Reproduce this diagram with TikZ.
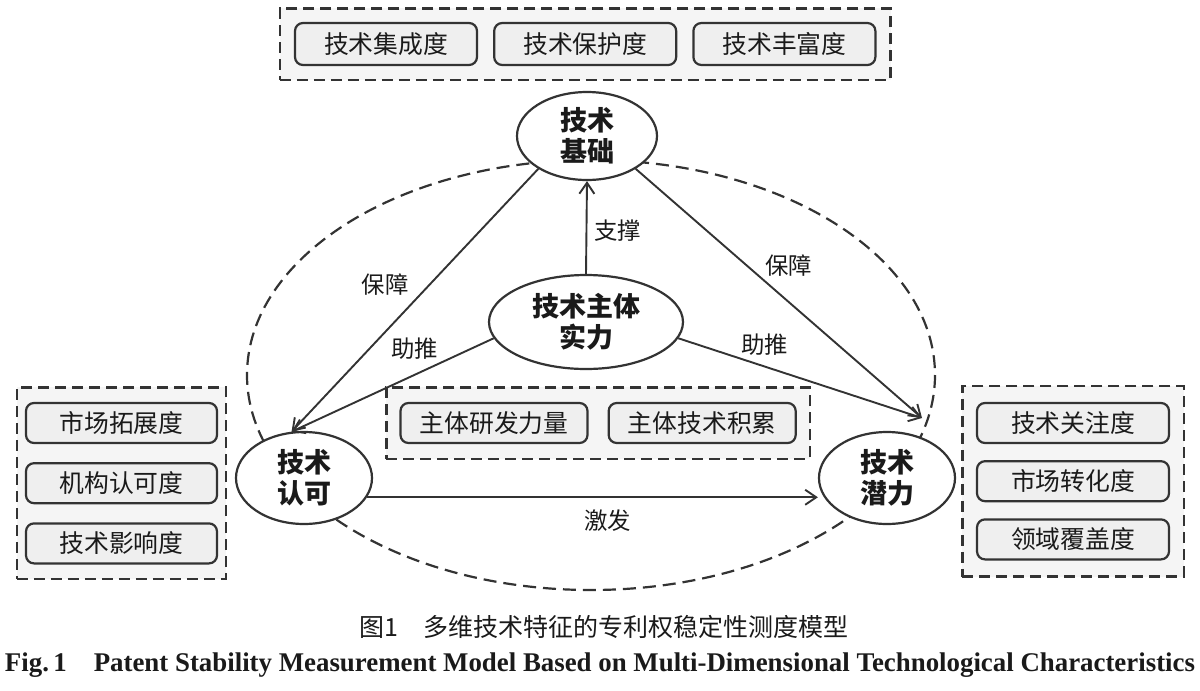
\documentclass[tikz,border=0pt]{standalone}
\usepackage{graphicx}
\usepackage{fontspec}
\setmainfont{Noto Sans CJK SC}
\newfontfamily\capfont{Liberation Serif}
\usetikzlibrary{arrows.meta,shapes.geometric,fit,backgrounds,positioning}
\definecolor{linegray}{HTML}{333333}
\definecolor{textgray}{HTML}{1A1A1A}
\definecolor{framefill}{HTML}{F5F5F5}
\definecolor{itemfill}{HTML}{EFEFEF}
\begin{document}
\begin{tikzpicture}[
        x=0.5pt, y=-0.5pt,
        every node/.style={text=textgray},
        corenode/.style={draw=linegray, line width=1.1pt, ellipse, fill=white, inner sep=0pt,
            minimum width=68pt, minimum height=46pt, align=center,
            font=\fontsize{13.5}{15.5}\selectfont\bfseries},
        dimbox/.style={draw=linegray, line width=1.1pt, rounded corners=4pt, fill=itemfill,
            minimum height=20pt, inner sep=0pt, font=\fontsize{12.4}{14}\selectfont},
        dimframe/.style={draw=linegray, line width=1.1pt, dash pattern=on 5.5pt off 3pt, fill=framefill},
        relarrow/.style={draw=linegray, line width=0.95pt, -{Straight Barb[length=5.5pt, width=7.5pt]}},
        rellabel/.style={font=\fontsize{11.7}{13}\selectfont, inner sep=2pt}
    ]
    \useasboundingbox (0,0) rectangle (1200,691);

    \draw[linegray, line width=1.1pt, dash pattern=on 6.5pt off 3.5pt]
        (591,375) ellipse [x radius=344, y radius=215];

    \node[corenode, minimum width=70pt, minimum height=44pt] (jichu) at (587,136) {技术\\基础};
    \node[corenode, minimum width=97pt, minimum height=47pt] (shili) at (586,322) {技术主体\\实力};
    \node[corenode] (renke) at (304,478) {技术\\认可};
    \node[corenode] (qianli) at (887,478) {技术\\潜力};
    \coordinate (qin) at ([shift={(35,-60)}]qianli.center);

    % indicator boxes
    \node[dimbox, minimum width=91pt, minimum height=21pt] (jcd) at (386,44) {技术集成度};
    \node[dimbox, minimum width=91pt, minimum height=21pt, right=7.5pt of jcd] (bhd) {技术保护度};
    \node[dimbox, minimum width=91pt, minimum height=21pt, right=7.5pt of bhd] (ffd) {技术丰富度};

    \node[dimbox, minimum width=95.5pt] (tzd) at (121.5,423) {市场拓展度};
    \node[dimbox, minimum width=95.5pt, below=9pt of tzd] (kkd) {机构认可度};
    \node[dimbox, minimum width=95.5pt, below=9pt of kkd] (yxd) {技术影响度};

    \node[dimbox, minimum width=96pt] (gzd) at (1073,423) {技术关注度};
    \node[dimbox, minimum width=96pt, below=8pt of gzd] (zhd) {市场转化度};
    \node[dimbox, minimum width=96pt, below=8pt of zhd] (fgd) {领域覆盖度};

    \node[dimbox, minimum width=93.5pt] (yfl) at (494,423) {主体研发力量};
    \node[dimbox, minimum width=93.5pt, right=9.5pt of yfl] (jlj) {主体技术积累};

    \begin{scope}[on background layer]
        \node[dimframe, fit=(jcd)(ffd), inner xsep=7pt, inner ysep=6.75pt] (topframe) {};
        \node[dimframe, fit=(tzd)(yxd), inner xsep=4pt, inner ysep=7.25pt] (leftframe) {};
        \node[dimframe, fit=(gzd)(fgd), inner xsep=6.75pt, inner ysep=8pt] (rightframe) {};
        \node[dimframe, fit=(yfl)(jlj), inner xsep=6.5pt, inner ysep=7.25pt] (midframe) {};
    \end{scope}

    % relations
    \draw[relarrow] (shili.north) -- (jichu.south)
        node[rellabel, pos=0.47, right=1.5pt] {支撑};
    \draw[relarrow] (jichu.214) -- (renke.105)
        node[rellabel, pos=0.44, left=8pt] {保障};
    \draw[relarrow] (jichu.-34) -- (qin)
        node[rellabel, pos=0.39, right=6.5pt] {保障};
    \draw[relarrow] (shili.190) -- (renke.105)
        node[rellabel, pos=0.39, above=5pt] {助推};
    \draw[relarrow] (shili.-10) -- (qin)
        node[rellabel, pos=0.354, above=3pt] {助推};
    \draw[relarrow] (renke.-17) -- (renke.-17 -| qianli.west)
        node[rellabel, pos=0.534, below=4pt] {激发};

    % caption
    \node (capcn) at (604,627) {\fontsize{12.5}{14}\selectfont 图1\hspace{1em}多维技术特征的专利权稳定性测度模型};
    \node (capen) at (600,665) {\resizebox{595pt}{\height}{\capfont\bfseries\fontsize{13.5}{15}\selectfont
        Fig.\,1\quad Patent Stability Measurement Model Based on Multi-Dimensional Technological Characteristics}};
\end{tikzpicture}
\end{document}
